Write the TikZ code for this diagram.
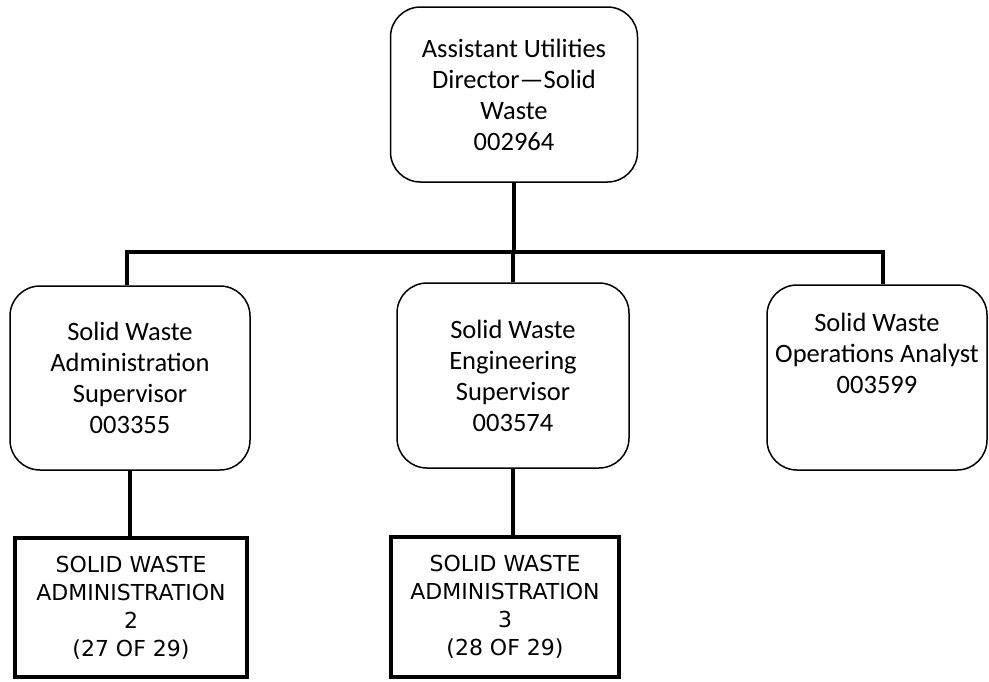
\documentclass[tikz,border=0pt]{standalone}
\usepackage{fontspec}
\setmainfont{Carlito}
\newfontfamily\verd{DejaVu Sans}
\begin{document}
\begin{tikzpicture}[x=1pt,y=-1pt,
  rbox/.style={draw=black, line width=1.5pt, rounded corners=30pt, fill=white,
    inner sep=0pt, font=\fontsize{26.5}{31}\selectfont, align=center},
  sbox/.style={draw=black, line width=4pt, fill=white, inner sep=0pt,
    font=\verd\fontsize{22}{28}\selectfont, align=center},
  conn/.style={draw=black, line width=4pt}]
\useasboundingbox (0,0) rectangle (989,681);
\coordinate (busL) at (127,252);
\coordinate (busR) at (883,252);
\node[rbox, minimum width=247pt, minimum height=175pt] (top) at (514,94.5)
  {Assistant Utilities\\Director—Solid\\Waste\\002964};
\node[rbox, minimum width=240pt, minimum height=184pt] (left) at (130,378)
  {Solid Waste\\Administration\\Supervisor\\003355};
\node[rbox, minimum width=232pt, minimum height=185pt] (mid) at (513,375.5)
  {Solid Waste\\Engineering\\Supervisor\\003574};
\node[rbox, minimum width=220pt, minimum height=185pt] (right) at (877,377.5)
  {\parbox[c][128pt][t]{220pt}{\centering Solid Waste\\Operations Analyst\\003599}};
\node[sbox, minimum width=232pt, minimum height=139pt] (r1) at (131,607.5)
  {SOLID WASTE\\ADMINISTRATION\\2\\(27 OF 29)};
\node[sbox, minimum width=228pt, minimum height=140pt] (r2) at (505,607)
  {SOLID WASTE\\ADMINISTRATION\\3\\(28 OF 29)};
\draw[conn] (top.south) -- (top.south |- busL);
\draw[conn] ([xshift=-2pt]busL) -- ([xshift=2pt]busR);
\draw[conn] (busL) -- (busL |- left.north);
\draw[conn] (mid.north) -- (mid.north |- busL);
\draw[conn] (busR) -- (busR |- right.north);
\draw[conn] (left.south) -- (left.south |- r1.north);
\draw[conn] (mid.south) -- (mid.south |- r2.north);
\end{tikzpicture}
\end{document}
